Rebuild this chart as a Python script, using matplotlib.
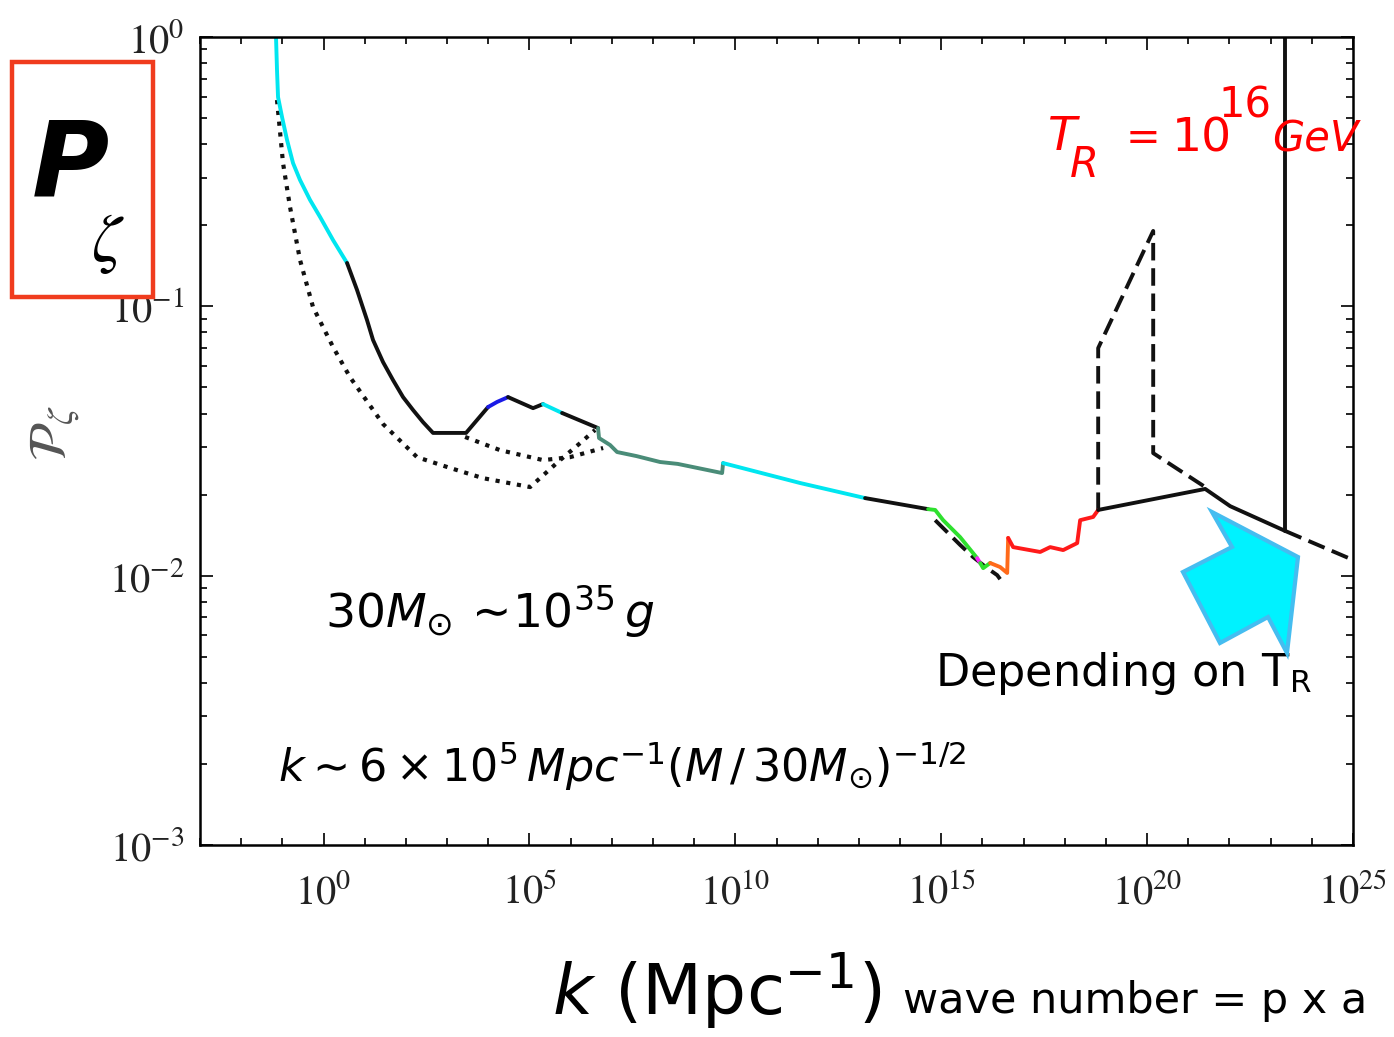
import numpy as np
import matplotlib
matplotlib.use("Agg")
import matplotlib.pyplot as plt
from matplotlib.patches import Rectangle, Polygon
from matplotlib.ticker import FixedLocator, FuncFormatter, LogLocator, NullFormatter

# ---------------- data (log10 k [Mpc^-1], log10 P_zeta) ----------------
cyan_a_lk = [-1.154, -1.130, -1.105, -1.008, -0.887, -0.741, -0.571, -0.328, -0.085, 0.231, 0.571]
cyan_a_lp = [0.0, -0.123, -0.223, -0.297, -0.382, -0.468, -0.531, -0.605, -0.668, -0.754, -0.839]
black_a_lk = [0.571, 0.813, 1.056, 1.202, 1.445, 1.688, 1.931, 2.174, 2.416, 2.659, 3.461, 3.995]
black_a_lp = [-0.839, -0.939, -1.051, -1.125, -1.207, -1.274, -1.337, -1.385, -1.430, -1.470,
              -1.470, -1.374]
blue_lk = [3.995, 4.214, 4.481]
blue_lp = [-1.374, -1.355, -1.337]
black_b_lk = [4.481, 5.088, 5.331]
black_b_lp = [-1.337, -1.378, -1.363]
cyan_b_lk = [5.331, 5.793]
cyan_b_lp = [-1.363, -1.396]
black_c_lk = [5.793, 6.667]
black_c_lp = [-1.396, -1.452]
teal_lk = [6.667, 6.690, 6.959, 7.129, 7.600, 8.173, 8.600, 9.679, 9.703]
teal_lp = [-1.452, -1.489, -1.515, -1.541, -1.556, -1.578, -1.585, -1.619, -1.582]
cyan_c_lk = [9.703, 11.574, 13.152]
cyan_c_lp = [-1.582, -1.656, -1.712]
black_d_lk = [13.152, 14.683]
black_d_lp = [-1.712, -1.753]
green_a_lk = [14.683, 14.853, 15.047, 15.460, 15.873]
green_a_lp = [-1.753, -1.756, -1.794, -1.857, -1.935]
magenta_lk = [15.873, 15.946]
magenta_lp = [-1.935, -1.953]
green_b_lk = [15.946, 16.019, 16.189]
green_b_lp = [-1.953, -1.972, -1.953]
orange_lk = [16.189, 16.431, 16.602, 16.626]
orange_lp = [-1.953, -1.968, -1.990, -1.860]
red_lk = [16.626, 16.747, 17.403, 17.646, 17.962, 18.302, 18.374, 18.690, 18.812]
red_lp = [-1.860, -1.894, -1.912, -1.894, -1.905, -1.879, -1.794, -1.782, -1.756]
black_e_lk = [18.812, 21.411, 22.018, 23.354]
black_e_lp = [-1.756, -1.678, -1.742, -1.834]
cutoff_lk = [23.354, 23.354]
cutoff_lp = [-1.834, 0.0]

dashed_tr_lk = [18.812, 18.812, 20.148, 20.148, 21.411]
dashed_tr_lp = [-1.756, -1.155, -0.720, -1.545, -1.671]
dashed_tail_lk = [23.354, 25.006]
dashed_tail_lp = [-1.834, -1.942]
dashed_low_lk = [14.853, 15.460, 15.776, 16.116, 16.359, 16.431]
dashed_low_lp = [-1.794, -1.886, -1.931, -1.972, -1.998, -2.013]

dotted_a_lk = [-1.130, -0.984, -0.814, -0.571, -0.255, 0.231, 0.643, 1.445, 2.271,
               3.072, 3.874, 5.016, 5.744, 6.230, 6.594]
dotted_a_lp = [-0.234, -0.468, -0.631, -0.828, -1.003, -1.151, -1.263, -1.437, -1.560,
               -1.600, -1.638, -1.671, -1.571, -1.508, -1.459]
dotted_b_lk = [3.437, 4.287, 5.331, 5.987, 6.789]
dotted_b_lp = [-1.485, -1.534, -1.571, -1.560, -1.526]

x_major_exp = [0, 5, 10, 15, 20, 25]
y_major_exp = [0, -1, -2, -3]

CYAN = "#00e6f0"
BLUE = "#1a1ae6"
TEAL = "#4a8c78"
GREEN = "#2ee02e"
MAGENTA = "#ff22ff"
ORANGE = "#ff6a1a"
RED = "#ff1a1a"
BLACK = "#111111"

solid_segments = [
    (cyan_a_lk, cyan_a_lp, CYAN), (black_a_lk, black_a_lp, BLACK),
    (blue_lk, blue_lp, BLUE), (black_b_lk, black_b_lp, BLACK),
    (cyan_b_lk, cyan_b_lp, CYAN), (black_c_lk, black_c_lp, BLACK),
    (teal_lk, teal_lp, TEAL), (cyan_c_lk, cyan_c_lp, CYAN),
    (black_d_lk, black_d_lp, BLACK), (green_a_lk, green_a_lp, GREEN),
    (magenta_lk, magenta_lp, MAGENTA), (green_b_lk, green_b_lp, GREEN),
    (orange_lk, orange_lp, ORANGE), (red_lk, red_lp, RED),
    (black_e_lk, black_e_lp, BLACK), (cutoff_lk, cutoff_lp, BLACK),
]
dashed_segments = [(dashed_tr_lk, dashed_tr_lp), (dashed_tail_lk, dashed_tail_lp),
                   (dashed_low_lk, dashed_low_lp)]
dotted_segments = [(dotted_a_lk, dotted_a_lp), (dotted_b_lk, dotted_b_lp)]

# ---------------- figure ----------------
plt.rcParams["mathtext.fontset"] = "stix"
plt.rcParams["font.family"] = ["DejaVu Sans"]

W, H = 1394, 1037
fig = plt.figure(figsize=(W / 100, H / 100), dpi=100)


def fx(x):
    return x / W


def fy(y):
    return 1 - y / H


ax = fig.add_axes([fx(200), fy(845), (1353 - 200) / W, (845 - 37) / H])
ax.set_xscale("log")
ax.set_yscale("log")
ax.set_xlim(1e-3, 1e25)
ax.set_ylim(1e-3, 1e0)

for lk, lp in dotted_segments:
    ax.plot(10 ** np.array(lk), 10 ** np.array(lp), color=BLACK, lw=3.0,
            linestyle=(0, (1, 1.6)), dash_capstyle="butt")
for lk, lp in dashed_segments:
    ax.plot(10 ** np.array(lk), 10 ** np.array(lp), color=BLACK, lw=2.8,
            linestyle=(0, (4.5, 2.0)), dash_capstyle="butt")
for lk, lp, c in solid_segments:
    ax.plot(10 ** np.array(lk), 10 ** np.array(lp), color=c, lw=2.8,
            solid_capstyle="round", solid_joinstyle="round")

for s in ax.spines.values():
    s.set_linewidth(1.8)

ax.xaxis.set_major_locator(FixedLocator([10.0 ** e for e in x_major_exp]))
ax.xaxis.set_minor_locator(FixedLocator([10.0 ** e for e in range(-3, 26) if e % 5 != 0]))
ax.yaxis.set_major_locator(FixedLocator([10.0 ** e for e in y_major_exp]))
ax.yaxis.set_minor_locator(LogLocator(base=10, subs=np.arange(2, 10), numticks=20))
ax.xaxis.set_minor_formatter(NullFormatter())
ax.yaxis.set_minor_formatter(NullFormatter())
fmt = FuncFormatter(lambda v, p: r"$10^{%d}$" % int(round(np.log10(v))))
ax.xaxis.set_major_formatter(fmt)
ax.yaxis.set_major_formatter(fmt)
ax.tick_params(which="both", direction="in", top=True, right=True, width=1.3)
ax.tick_params(which="major", length=9)
ax.tick_params(which="minor", length=5)
ax.tick_params(axis="x", which="major", labelsize=29, pad=20, colors="#222222")
ax.tick_params(axis="y", which="major", labelsize=29, pad=11, colors="#222222")
ax.tick_params(axis="both", which="both", color=BLACK)

# y-axis label
fig.text(fx(55), fy(433), r"$\mathcal{P}_\zeta$", rotation=90, fontsize=38,
         color="#555555", ha="center", va="center")

# red box with P_zeta
fig.patches.append(Rectangle((fx(12), fy(297)), (153 - 12) / W, (297 - 62) / H,
                             transform=fig.transFigure, facecolor="white",
                             edgecolor="#f03c1e", lw=3.2, zorder=5))
fig.text(fx(70), fy(168), "P", fontsize=76, fontweight="bold", fontstyle="italic",
         ha="center", va="center", zorder=6)
fig.text(fx(108), fy(243), r"$\zeta$", fontsize=48, ha="center", va="center",
         zorder=6)

# cyan arrow
arrow_px = [(1212, 512), (1298, 557), (1287, 653), (1268, 617), (1220, 643),
            (1183, 572), (1232, 547)]
fig.patches.append(Polygon([(fx(x), fy(y)) for x, y in arrow_px], closed=True,
                           transform=fig.transFigure, facecolor="#00f2ff",
                           edgecolor="#45bdf0", lw=3, joinstyle="miter", zorder=4))

# annotations
MF = "dejavusans"
fig.text(fx(325), fy(628), r"$30\mathit{M}_{\odot}\,\sim\!10^{35}\,\mathit{g}$",
         fontsize=34, math_fontfamily=MF, ha="left", va="baseline")
fig.text(fx(278), fy(782),
         r"$\mathit{k}\sim 6\times 10^{5}\,\mathit{Mpc}^{-1}(\mathit{M}\,/\,30\mathit{M}_{\odot})^{-1/2}$",
         fontsize=32, math_fontfamily=MF, ha="left", va="baseline")
fig.text(fx(935), fy(686), r"Depending on T$_\mathregular{R}$", fontsize=32,
         ha="left", va="baseline")

# T_R = 10^16 GeV (red)
fig.text(fx(1048), fy(150), "T", fontsize=34, fontstyle="italic", color="red",
         ha="left", va="baseline")
fig.text(fx(1070), fy(177), "R", fontsize=30, fontstyle="italic", color="red",
         ha="left", va="baseline")
fig.text(fx(1126), fy(150), "=", fontsize=30, color="red", ha="left", va="baseline")
fig.text(fx(1172), fy(152), "10", fontsize=34, color="red", ha="left", va="baseline")
fig.text(fx(1218), fy(117), "16", fontsize=30, color="red", ha="left", va="baseline")
fig.text(fx(1272), fy(152), "GeV", fontsize=30, fontstyle="italic", color="red",
         ha="left", va="baseline")

# x-axis label
fig.text(fx(552), fy(1015), r"$\mathit{k}\ (\mathrm{Mpc}^{-1})$", fontsize=50,
         math_fontfamily=MF, ha="left", va="baseline")
fig.text(fx(903), fy(1013), "wave number = p x a", fontsize=31, ha="left",
         va="baseline")

fig.savefig("out.png", dpi=100)
